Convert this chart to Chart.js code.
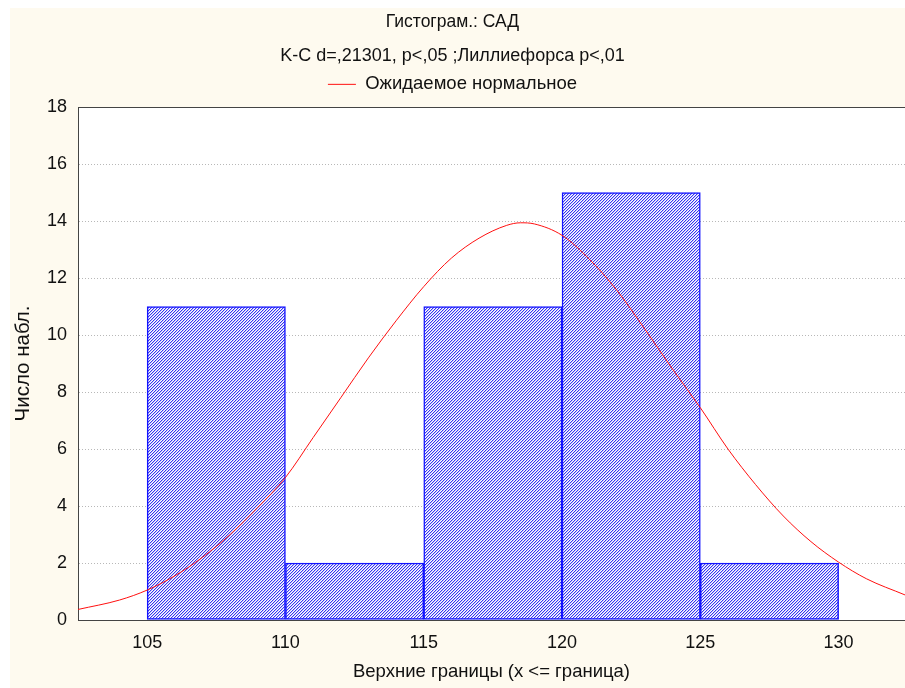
<!DOCTYPE html>
<html><head><meta charset="utf-8">
<script src="https://cdn.jsdelivr.net/npm/chart.js@4.4.1/dist/chart.umd.min.js"></script>
<style>html,body{margin:0;padding:0;background:#fff;overflow:hidden}#wrap{width:905px;height:688px}</style>
</head><body><div id="wrap"><canvas id="c" width="905" height="688"></canvas></div>
<script>
// ---- data ----
const binUpper = [110, 115, 120, 125, 130];
const binCounts = [11, 2, 11, 15, 2];
const binWidth = 5;
const curveX = [102.5, 104, 105, 106, 107, 108, 109, 110, 111, 112, 113, 114, 115, 116, 117, 118, 118.5, 119, 120, 121, 122, 123, 124, 125, 126, 127, 128, 129, 130, 131, 132.4];
const curveY = [0.37, 0.70, 1.05, 1.55, 2.2, 3.0, 3.95, 5.0, 6.4, 7.8, 9.2, 10.5, 11.7, 12.7, 13.4, 13.85, 13.94, 13.9, 13.5, 12.65, 11.55, 10.2, 8.8, 7.45, 6.0, 4.75, 3.65, 2.75, 2.03, 1.45, 0.88];
const xTickValues = [105, 110, 115, 120, 125, 130];
const yTickValues = [0, 2, 4, 6, 8, 10, 12, 14, 16, 18];
const titleText = 'Гистограм.: САД';
const subtitleText = 'K-C d=,21301, p<,05 ;Лиллиефорса p<,01';
const curveLabel = 'Ожидаемое нормальное';
const xTitle = 'Верхние границы (x <= граница)';
const yTitle = 'Число набл.';

const FONT = '"Liberation Sans", Arial, sans-serif';
const CREAM = '#FEFAEF';

function hatch() {
  const t = document.createElement('canvas');
  t.width = 3; t.height = 3;
  const g = t.getContext('2d');
  g.fillStyle = '#ffffff'; g.fillRect(0, 0, 3, 3);
  for (let i = 0; i < 3; i++) {
    g.fillStyle = '#3434F2'; g.fillRect(i, 2 - i, 1, 1);
    g.fillStyle = '#C4C4F8'; g.fillRect(i, (3 - i) % 3, 1, 1);
  }
  return g.createPattern(t, 'repeat');
}

const bgPlugin = {
  id: 'bg',
  beforeDraw(chart) {
    const ctx = chart.ctx, a = chart.chartArea;
    ctx.save();
    ctx.fillStyle = '#ffffff'; ctx.fillRect(0, 0, chart.width, chart.height);
    ctx.fillStyle = CREAM; ctx.fillRect(10, 8, chart.width - 10, chart.height - 8);
    ctx.fillStyle = '#ffffff'; ctx.fillRect(a.left, a.top, a.right - a.left, a.bottom - a.top);
    ctx.restore();
  }
};

new Chart(document.getElementById('c'), {
  type: 'bar',
  data: {
    datasets: [
      {
        type: 'line', label: curveLabel,
        data: curveX.map((x, i) => ({x: x, y: curveY[i]})),
        borderColor: '#FF1010', borderWidth: 1, pointRadius: 0, pointStyle: 'line',
        tension: 0.4, cubicInterpolationMode: 'monotone', order: 0
      },
      {
        type: 'bar', label: 'bins',
        data: binUpper.map((u, i) => ({x: u - binWidth / 2, y: binCounts[i]})),
        backgroundColor: hatch(), borderColor: '#1414FF', borderWidth: 1.5, borderSkipped: false,
        barPercentage: 1, categoryPercentage: 1, order: 1
      }
    ]
  },
  options: {
    responsive: false, animation: false,
    layout: {padding: {top: 0, left: 0, right: 0, bottom: 0}},
    plugins: {
      title: {display: true, text: titleText, color: '#111', font: {family: FONT, size: 17.5, weight: 'normal'}, padding: {top: 12, bottom: 0}},
      subtitle: {display: true, text: subtitleText, color: '#111', font: {family: FONT, size: 18, weight: 'normal'}, padding: {top: 12, bottom: 0}},
      legend: {
        display: true, position: 'top',
        labels: {
          usePointStyle: true, pointStyleWidth: 28, color: '#111', padding: 8.5,
          font: {family: FONT, size: 18.5},
          filter: (item) => item.datasetIndex === 0
        }
      },
      tooltip: {enabled: false}
    },
    scales: {
      x: {
        type: 'linear', position: 'bottom', min: 102.5, max: 132.4, offset: false,
        afterBuildTicks: (s) => { s.ticks = xTickValues.map(v => ({value: v})); },
        afterFit: (s) => { s.height = 68; },
        ticks: {includeBounds: false, color: '#111', padding: 12, font: {family: FONT, size: 18}},
        grid: {display: false, drawTicks: false, offset: false},
        border: {display: true, color: '#444', width: 1},
        title: {display: true, text: xTitle, color: '#111', font: {family: FONT, size: 18.5}, padding: {top: 5, bottom: 5}}
      },
      xTop: {
        type: 'linear', position: 'top', min: 102.5, max: 132.4, offset: false,
        afterFit: (s) => { s.height = 3.5; },
        ticks: {display: false}, grid: {display: false, drawTicks: false},
        border: {display: true, color: '#444', width: 1}
      },
      y: {
        type: 'linear', min: 0, max: 18,
        afterBuildTicks: (s) => { s.ticks = yTickValues.map(v => ({value: v})); },
        afterFit: (s) => { s.width = 78; },
        ticks: {color: '#111', padding: 11, font: {family: FONT, size: 18}},
        grid: {display: true, drawTicks: false, color: '#B8B8B8', lineWidth: 1},
        border: {display: true, color: '#444', width: 1, dash: [1, 2]},
        title: {display: true, text: yTitle, color: '#111', font: {family: FONT, size: 20.5}, padding: {top: 11, bottom: 11}}
      }
    }
  },
  plugins: [bgPlugin]
});
</script></body></html>
